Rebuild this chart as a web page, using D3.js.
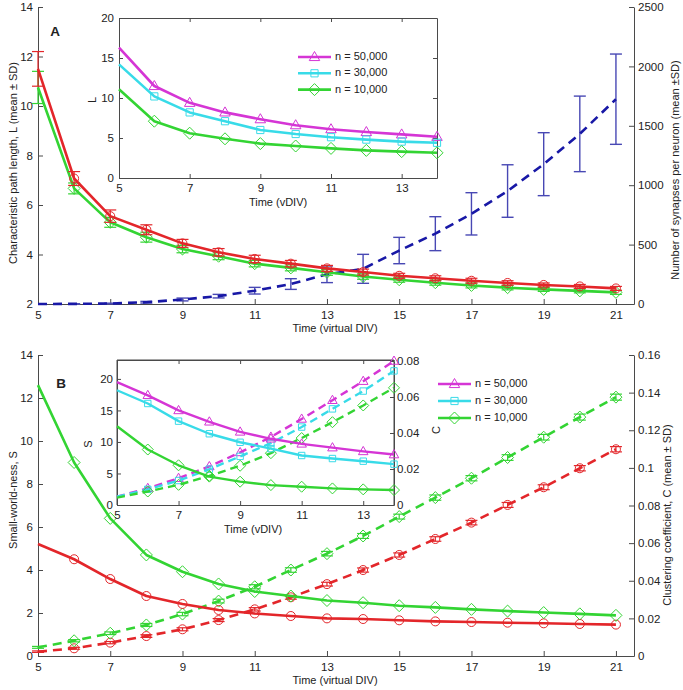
<!DOCTYPE html>
<html><head><meta charset="utf-8">
<script src="https://cdn.jsdelivr.net/npm/d3@7"></script>
<style>body{margin:0;background:#fff}svg{display:block;font-family:"Liberation Sans",Arial,sans-serif}</style>
</head><body><svg id="c" width="683" height="690"></svg>
<script>
// ---------- DATA ----------
const days = [5,6,7,8,9,10,11,12,13,14,15,16,17,18,19,20,21];
const insetDays = [5,6,7,8,9,10,11,12,13,14];
const mainXTicks = [5,7,9,11,13,15,17,19,21];
const insetXTicks = [5,7,9,11,13];

// Panel A
const L_red   = [11.5,7.07,5.55,5.0,4.45,4.09,3.82,3.63,3.44,3.29,3.14,3.04,2.94,2.85,2.77,2.71,2.63];
const L_redSD = [0.7,0.28,0.25,0.2,0.16,0.15,0.15,0.13,0.12,0.12,0.1,0.1,0.1,0.09,0.08,0.08,0.08];
const L_green   = [10.75,6.67,5.3,4.7,4.22,3.93,3.63,3.46,3.28,3.11,2.98,2.86,2.75,2.66,2.59,2.53,2.47];
const L_greenSD = [0.65,0.22,0.2,0.2,0.15,0.14,0.13,0.12,0.12,0.11,0.1,0.1,0.1,0.09,0.08,0.08,0.08];
const synapses   = [0,1,4,15,38,66,112,168,250,296,450,592,759,951,1177,1432,1724];
const synapsesSD = [0,1,3,7,12,15,28,45,70,122,111,143,178,221,265,318,380];
const A_leftTicks = [2,4,6,8,10,12,14];
const A_rightTicks = [0,500,1000,1500,2000,2500];

// Panel A inset
const L_50k = [16.3,11.5,9.4,8.2,7.35,6.6,6.1,5.75,5.45,5.15];
const L_30k = [14.2,10.2,8.2,7.1,6.0,5.5,5.1,4.8,4.55,4.4];
const L_10k = [11.1,7.1,5.6,4.9,4.3,4.0,3.7,3.45,3.3,3.15];
const insetA_yTicks = [0,5,10,15,20];

// Panel B
const S_green = [12.6,9.0,6.4,4.7,3.92,3.35,3.0,2.79,2.58,2.48,2.34,2.26,2.17,2.09,2.02,1.96,1.89];
const S_red   = [5.21,4.5,3.58,2.79,2.42,2.14,1.98,1.86,1.75,1.72,1.66,1.61,1.58,1.55,1.52,1.49,1.46];
const C_green   = [0.0046,0.0081,0.0121,0.0165,0.0223,0.0292,0.0368,0.0457,0.0544,0.0638,0.0741,0.0842,0.0945,0.1055,0.1163,0.127,0.1376];
const C_greenSD = [0.0005,0.0006,0.0007,0.0008,0.0009,0.001,0.0011,0.0012,0.0012,0.0013,0.0013,0.0014,0.0014,0.0015,0.0015,0.0016,0.0016];
const C_red   = [0.0023,0.0041,0.0071,0.0106,0.0142,0.0191,0.0248,0.0312,0.0382,0.0457,0.0537,0.0622,0.0709,0.0803,0.0897,0.0998,0.1099];
const C_redSD = [0.0004,0.0005,0.0006,0.0007,0.0008,0.0008,0.0009,0.001,0.001,0.0011,0.0011,0.0012,0.0012,0.0013,0.0013,0.0014,0.0014];
const B_leftTicks = [0,2,4,6,8,10,12,14];
const B_rightTicks = [0,0.02,0.04,0.06,0.08,0.1,0.12,0.14,0.16];

// Panel B inset
const S_50k = [19.5,17.4,15.0,13.2,11.6,10.5,9.7,9.1,8.5,8.0];
const S_30k = [18.2,16.1,13.3,11.3,9.95,8.95,7.85,7.37,6.95,6.48];
const S_10k = [12.5,8.8,6.3,4.5,3.7,3.16,2.9,2.63,2.48,2.37];
const C_50k = [0.0046,0.0093,0.0149,0.0214,0.0292,0.0378,0.0478,0.0582,0.0688,0.08];
const C_30k = [0.0046,0.0087,0.0136,0.0199,0.027,0.0344,0.0433,0.0534,0.0633,0.0745];
const C_10k = [0.0041,0.0075,0.0112,0.0162,0.0218,0.0288,0.0372,0.046,0.0553,0.0651];
const insetB_sTicks = [0,5,10,15,20];
const insetB_cTicks = [0,0.02,0.04,0.06,0.08];

const legendLabels = ["n = 50,000","n = 30,000","n = 10,000"];

// ---------- STYLE ----------
const RED='#e3262a', GREEN='#33d433', MAG='#d535d5', CYAN='#38dbe8', BLUE='#1818a6', BLUEBAR='#4848b4';
const AX='#4a4a4a', TXT='#222';
const fmt = d => String(+(+d).toFixed(3));

const svg = d3.select('#c');

function markerPath(type, cx, cy, s){
  const p = d3.path();
  if(type==='circle'){ p.moveTo(cx+s,cy); p.arc(cx,cy,s,0,2*Math.PI); }
  else if(type==='diamond'){ p.moveTo(cx,cy-s); p.lineTo(cx+s,cy); p.lineTo(cx,cy+s); p.lineTo(cx-s,cy); p.closePath(); }
  else if(type==='triangle'){ p.moveTo(cx,cy-s); p.lineTo(cx+s*0.95,cy+s*0.65); p.lineTo(cx-s*0.95,cy+s*0.65); p.closePath(); }
  else if(type==='square'){ p.rect(cx-s*0.8,cy-s*0.8,s*1.6,s*1.6); }
  return p.toString();
}

function series(g, x, y, xs, ys, o){
  const pts = xs.map((d,i)=>[x(d), y(ys[i])]);
  if(o.err){
    const eg = g.append('g').attr('stroke', o.errColor||o.color).attr('stroke-width', o.errWidth||1.2).attr('fill','none');
    xs.forEach((d,i)=>{
      if(!o.err[i]) return;
      const px=x(d), y1=y(ys[i]-o.err[i]), y2=y(ys[i]+o.err[i]), c=o.cap||6;
      eg.append('line').attr('x1',px).attr('x2',px).attr('y1',y1).attr('y2',y2);
      eg.append('line').attr('x1',px-c).attr('x2',px+c).attr('y1',y1).attr('y2',y1);
      eg.append('line').attr('x1',px-c).attr('x2',px+c).attr('y1',y2).attr('y2',y2);
    });
  }
  g.append('path').attr('d', d3.line()(pts)).attr('fill','none').attr('stroke',o.color)
    .attr('stroke-width',o.width||2.5).attr('stroke-dasharray',o.dash||null).attr('stroke-linejoin','round');
  if(o.marker){
    pts.forEach((p,i)=>{
      if(i===0 && !o.firstMarker) return;
      g.append('path').attr('d',markerPath(o.marker,p[0],p[1],o.msize||5))
        .attr('fill','none').attr('stroke',o.color).attr('stroke-width',1);
    });
  }
}

function styleAxis(a, fs){
  a.select('.domain').attr('stroke',AX).attr('stroke-width',1);
  a.selectAll('.tick line').attr('stroke',AX);
  a.selectAll('.tick text').attr('fill',TXT).style('font-size',(fs||11.5)+'px');
  a.attr('font-family',null).attr('font-size',null);
  return a;
}

function label(txt, x, y, rot, opts={}){
  const t = svg.append('text').attr('transform',`translate(${x},${y})`+(rot?` rotate(${rot})`:''))
    .attr('text-anchor','middle').attr('dominant-baseline','middle').attr('fill',TXT)
    .style('font-size',(opts.size||11)+'px').style('font-weight',opts.bold?'bold':'normal').text(txt);
  return t;
}

// ---------- PANEL A ----------
const xMainA = d3.scaleLinear().domain([5,21.5]).range([38,634]);
const yA = d3.scaleLinear().domain([2,14]).range([304,7]);
const yAR = d3.scaleLinear().domain([0,2500]).range([304,7]);

const gA = svg.append('g');
styleAxis(gA.append('g').attr('transform','translate(38,0)')
  .call(d3.axisLeft(yA).tickValues(A_leftTicks).tickSize(-5).tickSizeOuter(0).tickPadding(5)));
styleAxis(gA.append('g').attr('transform','translate(0,304)')
  .call(d3.axisBottom(xMainA).tickValues(mainXTicks).tickSize(-5).tickSizeOuter(0).tickPadding(7)));
styleAxis(gA.append('g').attr('transform','translate(634,0)')
  .call(d3.axisRight(yAR).tickValues(A_rightTicks).tickSize(-5).tickSizeOuter(0).tickPadding(4).tickFormat(fmt)));

series(gA, xMainA, yAR, days, synapses, {color:BLUE, width:2.6, dash:'9,6', err:synapsesSD, errColor:BLUEBAR, errWidth:1.4, cap:6});
series(gA, xMainA, yA, days, L_green, {color:GREEN, width:2.6, marker:'diamond', msize:6, err:L_greenSD, cap:6});
series(gA, xMainA, yA, days, L_red, {color:RED, width:2.6, marker:'circle', msize:4.5, err:L_redSD, cap:6});

label('A', 55, 32, 0, {size:13.5, bold:true});
label('Characteristic path length, L (mean \u00b1 SD)', 14, 163, -90, {size:11});
label('Number of synapses per neuron (mean \u00b1SD)', 676, 170, -90, {size:11});
label('Time (virtual DIV)', 335, 329, 0, {size:11});

// Inset A
const xIA = d3.scaleLinear().domain([5,14]).range([119,437]);
const yIA = d3.scaleLinear().domain([0,20]).range([178,18]);
const gIA = svg.append('g');
gIA.append('rect').attr('x',119).attr('y',18).attr('width',318).attr('height',160).attr('fill','#fff');
styleAxis(gIA.append('g').attr('transform','translate(119,0)')
  .call(d3.axisLeft(yIA).tickValues(insetA_yTicks).tickSize(-4).tickSizeOuter(0).tickPadding(5)));
styleAxis(gIA.append('g').attr('transform','translate(437,0)')
  .call(d3.axisRight(yIA).tickValues(insetA_yTicks).tickSize(-4).tickSizeOuter(0).tickFormat('')));
styleAxis(gIA.append('g').attr('transform','translate(0,178)')
  .call(d3.axisBottom(xIA).tickValues(insetXTicks).tickSize(-4).tickSizeOuter(0).tickPadding(6)));
styleAxis(gIA.append('g').attr('transform','translate(0,18)')
  .call(d3.axisTop(xIA).tickValues(insetXTicks).tickSize(-4).tickSizeOuter(0).tickFormat('')));
series(gIA, xIA, yIA, insetDays, L_50k, {color:MAG, width:2.6, marker:'triangle', msize:5.5});
series(gIA, xIA, yIA, insetDays, L_30k, {color:CYAN, width:2.6, marker:'square', msize:4.5});
series(gIA, xIA, yIA, insetDays, L_10k, {color:GREEN, width:2.6, marker:'diamond', msize:6});
label('L', 93, 100, -90, {size:11});
label('Time (vDIV)', 278, 203, 0, {size:11});

function legend(x0, y0, dy){
  const specs = [[MAG,'triangle',5.5],[CYAN,'square',4.5],[GREEN,'diamond',6]];
  specs.forEach((s,i)=>{
    const y = y0 + i*dy;
    const lg = svg.append('g');
    lg.append('line').attr('x1',x0).attr('x2',x0+33).attr('y1',y).attr('y2',y).attr('stroke',s[0]).attr('stroke-width',2.6);
    lg.append('path').attr('d',markerPath(s[1],x0+16.5,y,s[2])).attr('fill','none').attr('stroke',s[0]).attr('stroke-width',1);
    lg.append('text').attr('x',x0+37).attr('y',y).attr('dominant-baseline','middle').attr('fill',TXT)
      .style('font-size','11px').text(legendLabels[i]);
  });
}
legend(298, 57, 16.3);

// ---------- PANEL B ----------
const yB = d3.scaleLinear().domain([0,14]).range([656,355]);
const yBR = d3.scaleLinear().domain([0,0.16]).range([656,355]);
const gB = svg.append('g');
styleAxis(gB.append('g').attr('transform','translate(38,0)')
  .call(d3.axisLeft(yB).tickValues(B_leftTicks).tickSize(-5).tickSizeOuter(0).tickPadding(5)));
styleAxis(gB.append('g').attr('transform','translate(0,656)')
  .call(d3.axisBottom(xMainA).tickValues(mainXTicks).tickSize(-5).tickSizeOuter(0).tickPadding(7)));
styleAxis(gB.append('g').attr('transform','translate(634,0)')
  .call(d3.axisRight(yBR).tickValues(B_rightTicks).tickSize(-5).tickSizeOuter(0).tickPadding(4).tickFormat(fmt)));

series(gB, xMainA, yBR, days, C_red, {color:RED, width:2.6, dash:'9,6', marker:'circle', msize:4.5, err:C_redSD, cap:6});
series(gB, xMainA, yBR, days, C_green, {color:GREEN, width:2.6, dash:'9,6', marker:'diamond', msize:6, err:C_greenSD, cap:6});
series(gB, xMainA, yB, days, S_red, {color:RED, width:2.6, marker:'circle', msize:4.5});
series(gB, xMainA, yB, days, S_green, {color:GREEN, width:2.6, marker:'diamond', msize:6});

label('B', 61, 384, 0, {size:13.5, bold:true});
label('Small-world-ness, S', 14, 500, -90, {size:11});
label('Clustering coefficient, C (mean \u00b1 SD)', 668, 515, -90, {size:11});
label('Time (virtual DIV)', 335, 681, 0, {size:11});

// Inset B
const xIB = d3.scaleLinear().domain([5,14]).range([117,394]);
const yIBS = d3.scaleLinear().domain([0,23]).range([505,360]);
const yIBC = d3.scaleLinear().domain([0,0.08]).range([505,361]);
const gIB = svg.append('g');
gIB.append('rect').attr('x',117).attr('y',360).attr('width',277).attr('height',145).attr('fill','#fff');
styleAxis(gIB.append('g').attr('transform','translate(117,0)')
  .call(d3.axisLeft(yIBS).tickValues(insetB_sTicks).tickSize(-4).tickSizeOuter(0).tickPadding(4)));
styleAxis(gIB.append('g').attr('transform','translate(394,0)')
  .call(d3.axisRight(yIBC).tickValues(insetB_cTicks).tickSize(-4).tickSizeOuter(0).tickPadding(3).tickFormat(fmt)));
styleAxis(gIB.append('g').attr('transform','translate(0,505)')
  .call(d3.axisBottom(xIB).tickValues(insetXTicks).tickSize(-4).tickSizeOuter(0).tickPadding(6)));
gIB.append('line').attr('x1',117).attr('x2',394).attr('y1',360).attr('y2',360).attr('stroke',AX);
styleAxis(gIB.append('g').attr('transform','translate(0,360)')
  .call(d3.axisTop(xIB).tickValues(insetXTicks).tickSize(-4).tickSizeOuter(0).tickFormat('')));
gIB.append('line').attr('x1',117).attr('x2',117).attr('y1',360).attr('y2',505).attr('stroke',AX);
gIB.append('line').attr('x1',394).attr('x2',394).attr('y1',360).attr('y2',505).attr('stroke',AX);

series(gIB, xIB, yIBC, insetDays, C_50k, {color:MAG, width:2.4, dash:'8,5', marker:'triangle', msize:5});
series(gIB, xIB, yIBC, insetDays, C_30k, {color:CYAN, width:2.4, dash:'8,5', marker:'square', msize:4});
series(gIB, xIB, yIBC, insetDays, C_10k, {color:GREEN, width:2.4, dash:'8,5', marker:'diamond', msize:5.5});
series(gIB, xIB, yIBS, insetDays, S_50k, {color:MAG, width:2.4, marker:'triangle', msize:5});
series(gIB, xIB, yIBS, insetDays, S_30k, {color:CYAN, width:2.4, marker:'square', msize:4});
series(gIB, xIB, yIBS, insetDays, S_10k, {color:GREEN, width:2.4, marker:'diamond', msize:5.5});
label('S', 89, 444, -90, {size:11});
label('C', 437, 430, -90, {size:11});
label('Time (vDIV)', 253, 530, 0, {size:11});

legend(438, 384, 17);
</script>
</body></html>
